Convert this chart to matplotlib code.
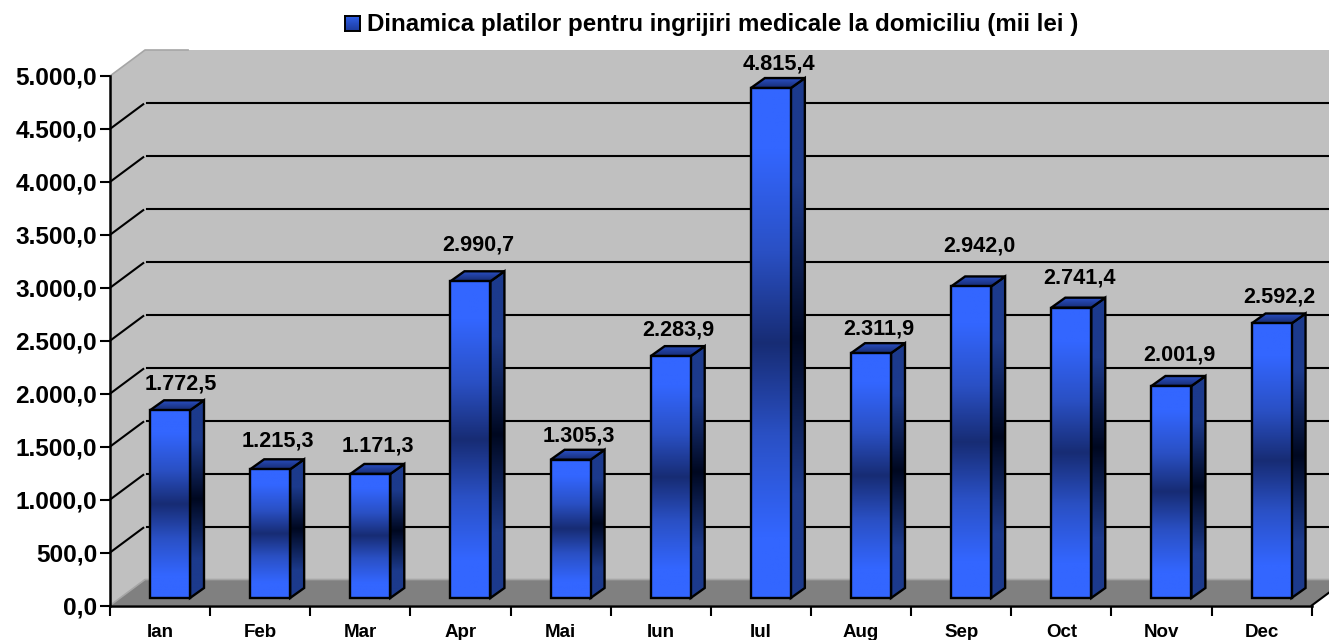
import matplotlib
matplotlib.use("Agg")
import matplotlib.pyplot as plt
import numpy as np
from matplotlib.colors import LinearSegmentedColormap
from matplotlib.patches import Polygon

plt.rcParams['font.family'] = ['Liberation Sans', 'DejaVu Sans']
plt.rcParams['font.weight'] = 'bold'

months = ['Ian', 'Feb', 'Mar', 'Apr', 'Mai', 'Iun', 'Iul', 'Aug', 'Sep', 'Oct', 'Nov', 'Dec']
values = [1772.5, 1215.3, 1171.3, 2990.7, 1305.3, 2283.9, 4815.4, 2311.9, 2942.0, 2741.4, 2001.9, 2592.2]
value_labels = ['1.772,5', '1.215,3', '1.171,3', '2.990,7', '1.305,3', '2.283,9',
                '4.815,4', '2.311,9', '2.942,0', '2.741,4', '2.001,9', '2.592,2']
y_ticks = [0, 500, 1000, 1500, 2000, 2500, 3000, 3500, 4000, 4500, 5000]
y_tick_labels = ['0,0', '500,0', '1.000,0', '1.500,0', '2.000,0', '2.500,0',
                 '3.000,0', '3.500,0', '4.000,0', '4.500,0', '5.000,0']
title = 'Dinamica platilor pentru ingrijiri medicale la domiciliu (mii lei )'

# layout, in pixels of the 1329x640 picture
W, H = 1329, 640
left, right, bottom, top = 110, 1311.7, 605.5, 76
px_x = 12 / (right - left)
px_y = 5000 / (bottom - top)
wall_dx, wall_dy = 35 * px_x, 26 * px_y
bar_dx, bar_dy = 14 * px_x, 10 * px_y
bar_x0, bar_w = 40 * px_x, 40 * px_x
bar_base = 7.5 * px_y
# the labels were placed by hand in the original, gap above the bar front in px
label_gap = [26, 28, 28, 36, 24, 26, 24, 24, 40, 30, 31, 26]
label_shift = [4, 1, 1, 1, 1, 1, 1.5, 1, 1, 1, 1, 1]

front_cmap = LinearSegmentedColormap.from_list('front', [
    (0, '#3366ff'), (0.12, '#3366ff'), (0.32, '#2a50c4'), (0.5, '#172c74'),
    (0.68, '#2a50c4'), (0.88, '#3366ff'), (1, '#3366ff')])
side_cmap = LinearSegmentedColormap.from_list('side', [
    (0, '#1c3a8c'), (0.2, '#1c3a8c'), (0.5, '#000820'), (0.8, '#1c3a8c'), (1, '#1c3a8c')])
top_cmap = LinearSegmentedColormap.from_list('top', ['#2a50c4', '#172c74'])
key_cmap = LinearSegmentedColormap.from_list('key', ['#3060e8', '#1c3a9c'])
grad = np.linspace(0, 1, 256).reshape(-1, 1)

fig = plt.figure(figsize=(W / 100, H / 100), dpi=100)
ax = fig.add_axes([left / W, 1 - bottom / H, (right - left) / W, (bottom - top) / H])


def poly(pts, **kw):
    p = Polygon(pts, closed=True, clip_on=False, **kw)
    ax.add_patch(p)
    return p


def grad_poly(pts, cmap, lo, hi, z):
    # gradient image cut to the shape, then the black outline on top
    xs = [p[0] for p in pts]
    shape = poly(pts, facecolor='none', edgecolor='none', zorder=z)
    im = ax.imshow(grad, cmap=cmap, aspect='auto', origin='upper', zorder=z,
                   extent=(min(xs), max(xs), lo, hi), clip_on=True)
    im.set_clip_path(shape)
    poly(pts, facecolor='none', edgecolor='black', linewidth=1.7, joinstyle='miter', zorder=z + 0.1)


# walls and floor
poly([(0, 0), (wall_dx, wall_dy), (wall_dx, 5000 + wall_dy), (0, 5000)], facecolor='#c0c0c0', edgecolor='none', zorder=1)
poly([(wall_dx, wall_dy), (12 + wall_dx, wall_dy), (12 + wall_dx, 5000 + wall_dy), (wall_dx, 5000 + wall_dy)],
     facecolor='#c0c0c0', edgecolor='none', zorder=1)
poly([(0, 0), (12, 0), (12 + wall_dx, wall_dy), (wall_dx, wall_dy)], facecolor='#808080', edgecolor='none', zorder=1)
ax.plot([0, wall_dx, 12 + wall_dx], [0, wall_dy, wall_dy], color='#a6a6a6', lw=1.2, clip_on=False, zorder=1.5)
ax.plot([0, wall_dx, wall_dx + 0.43], [5000, 5000 + wall_dy, 5000 + wall_dy], color='#a6a6a6', lw=1.2, clip_on=False, zorder=1.5)
ax.plot([12, 12 + wall_dx], [0, wall_dy], color='black', lw=1.5, clip_on=False, zorder=3)

# gridlines
for v in y_ticks[1:-1]:
    ax.plot([0, wall_dx * 0.95], [v, v + wall_dy * 0.95], color='black', lw=1.5, clip_on=False, zorder=2)
    ax.plot([wall_dx + 0.015, 12 + wall_dx], [v + wall_dy, v + wall_dy], color='black', lw=1.5, clip_on=False, zorder=2)

# bars
for i, v in enumerate(values):
    x0 = i + bar_x0
    x1 = x0 + bar_w
    y0 = bar_base
    y1 = bar_base + v
    grad_poly([(x1, y0), (x1 + bar_dx, y0 + bar_dy), (x1 + bar_dx, y1 + bar_dy), (x1, y1)], side_cmap, y0, y1 + bar_dy, 4)
    grad_poly([(x0, y1), (x1, y1), (x1 + bar_dx, y1 + bar_dy), (x0 + bar_dx, y1 + bar_dy)], top_cmap, y1, y1 + bar_dy, 4.2)
    grad_poly([(x0, y0), (x1, y0), (x1, y1), (x0, y1)], front_cmap, y0, y1, 4.4)
    ax.text(x0 + (bar_w + bar_dx) / 2 + label_shift[i] * px_x, y1 + label_gap[i] * px_y, value_labels[i],
            ha='center', va='center', fontsize=15.6, fontweight='bold', color='black', zorder=6, clip_on=False)

ax.set_xlim(0, 12)
ax.set_ylim(0, 5000)
ax.patch.set_visible(False)
for s in ['top', 'right']:
    ax.spines[s].set_visible(False)
for s in ['left', 'bottom']:
    ax.spines[s].set_linewidth(1.8)
    ax.spines[s].set_zorder(5)

ax.set_yticks(y_ticks)
ax.set_yticklabels(y_tick_labels, fontsize=17.6, fontweight='bold')
ax.tick_params(axis='y', length=7.2, width=1.5, pad=2)
ax.set_xticks(range(13))
ax.set_xticklabels([])
ax.set_xticks(np.arange(12) + 0.5, minor=True)
ax.set_xticklabels(months, minor=True, fontsize=13.5, fontweight='bold')
ax.tick_params(axis='x', which='major', length=7.2, width=1.5)
ax.tick_params(axis='x', which='minor', length=0, pad=13.5)

# title with its small legend key
fig.text(367 / W, 1 - 25 / H, title, ha='left', va='center', fontsize=17.4, fontweight='bold')
key = fig.add_axes([345 / W, 1 - 31 / H, 15 / W, 15 / H])
key.imshow(grad, cmap=key_cmap, aspect='auto')
key.set_xticks([])
key.set_yticks([])
for s in key.spines.values():
    s.set_linewidth(1.4)

fig.savefig('out.png', dpi=100)
